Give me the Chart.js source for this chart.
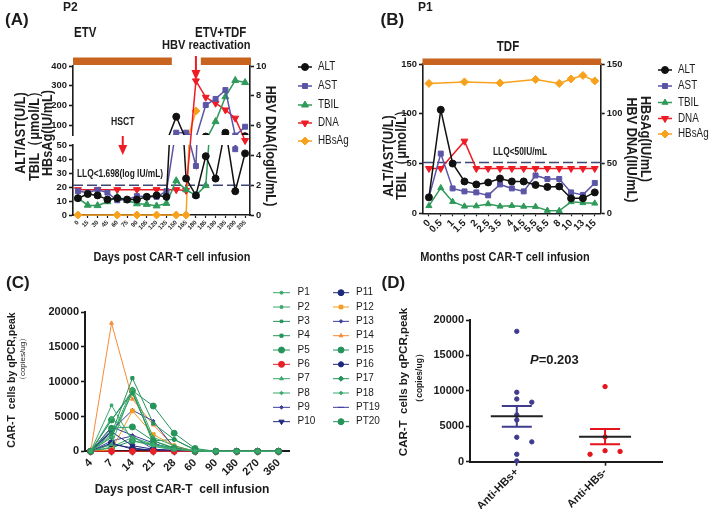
<!DOCTYPE html>
<html>
<head>
<meta charset="utf-8">
<title>CAR-T / HBV figure</title>
<script src="https://cdn.jsdelivr.net/npm/chart.js@4.4.1/dist/chart.umd.min.js"></script>
<style>
  html, body { margin: 0; padding: 0; background: #fff; }
  body { position: relative; width: 709px; height: 509px; overflow: hidden; }
  canvas { position: absolute; }
</style>
</head>
<body>
<canvas id="chartA" width="360" height="270" style="left:0;top:0"></canvas>
<canvas id="chartB" width="349" height="270" style="left:360px;top:0"></canvas>
<canvas id="chartC" width="395" height="239" style="left:0;top:270px"></canvas>
<canvas id="chartD" width="349" height="239" style="left:360px;top:270px"></canvas>
<script>
// ---- panel A: patient P2, days after infusion ----
const daysA  = ['0','15','30','45','60','75','90','105','120','135','150','165','180','185','190','195','200','205'];
const altA   = [12, 15, 14, 11, 12, 11, 11, 13, 14, 13, 143, 26, 14, 42, 26, 62, 17, 44];
const astA   = [17, 16, 18, 16, 10.5, 11, 13.5, 13, 13, 17, 62, 62, 35, 202, 233, 278, 47, 92];
const tbilA  = [12, 7, 6.7, 9.5, 13, 10.5, 8, 7.6, 6.5, 8.3, 24.5, 18, 14, 21, 118, 244, 327, 316];
const dnaA   = [1.7, null, 1.7, null, 1.7, null, 1.7, null, 1.7, null, 1.7, 1.65, 9.0, 7.9, 7.5, 7.05, 6.5, 5.0];
const hbsagA = [0, null, null, null, 0, null, 0, null, 0, null, 0, 0, 172, null, null, null, null, null];
const lowTicksA  = [0, 10, 20, 30, 40, 50];
const highTicksA = [100, 200, 300, 400];
const dnaTicksA  = [0, 2, 4, 6, 8, 10];
const llqA = 2;

// ---- panel B: patient P1, months after infusion ----
const monthsB = ['0','0.5','1','1.5','2','2.5','3.5','4','4.5','5.5','6.5','8','10','13','15'];
const altB    = [16, 104, 50, 32, 29, 31, 35, 32, 32, 28.5, 26.5, 27, 15, 15, 21];
const astB    = [16, 60, 25, 22, 21, 18, 29, 25, 22, 38, 34.5, 34.5, 21, 18.5, 30.5];
const tbilB   = [7.5, 25.5, 11.7, 7, 7.3, 9.4, 7, 7.7, 6.9, 6.7, 2.8, 2.5, 11.5, 10.5, 10];
const dnaB    = [45, 45, null, 72.5, 45, 45, 45, 45, 45, 45, 45, 45, 45, 45, 45];
const hbsagB  = [130.5, null, null, 132, null, null, 131, null, null, 134.5, null, 130.5, 135, 138.5, 133];
const ticksB  = [0, 50, 100, 150];
const llqB = 51;

// ---- panel C: CAR-T copies per patient ----
const daysC  = ['4','7','14','21','28','60','90','180','270','360'];
const namesC = ['P1','P2','P3','P4','P5','P6','P7','P8','P9','P10','P11','P12','P13','P14','P15','P16','P17','P18','PT19','PT20'];
const cP1   = [0, 4800, 2000, 1000, 300, 100, 0, 0, 0, 0];
const cP2   = [0, 6600, 1500, 800, 300, 100, 0, 0, 0, 0];
const cP3   = [0, 4500, 8400, 1500, 500, 0, 0, 0, 0, 0];
const cP4   = [0, 2500, 10500, 4000, 1700, 200, 0, 0, 0, 0];
const cP5   = [0, 3300, 3500, 1500, 400, 0, 0, 0, 0, 0];
const cP6   = [0, 0, 0, 0, 0, 0, 0, 0, 0, 0];
const cP7   = [0, 1000, 8900, 1000, 400, 0, 0, 0, 0, 0];
const cP8   = [0, 2200, 9000, 2000, 800, 0, 0, 0, 0, 0];
const cP9   = [0, 3500, 2300, 1200, 200, 0, 0, 0, 0, 0];
const cP10  = [0, 2800, 800, 300, 100, 0, 0, 0, 0, 0];
const cP11  = [0, 1200, 300, 200, 100, 0, 0, 0, 0, 0];
const cP12  = [0, 200, 5800, 2400, 800, 0, 0, 0, 0, 0];
const cP13  = [0, 3000, 5900, 4350, 500, 0, 0, 0, 0, 0];
const cP14  = [0, 18400, 7500, 3800, 700, 0, 0, 0, 0, 0];
const cP15  = [0, 4500, 8700, 6500, 2600, 400, 0, 0, 0, 0];
const cP16  = [0, 1000, 500, 100, 0, 0, 0, 0, 0, 0];
const cP17  = [0, 2000, 8400, 1500, 1700, 200, 0, 0, 0, 0];
const cP18  = [0, 600, 2000, 700, 200, 0, 0, 0, 0, 0];
const cPT19 = [0, 1500, 2200, 300, 100, 0, 0, 0, 0, 0];
const cPT20 = [0, 500, 1500, 1000, 500, 100, 0, 0, 0, 0];
const ticksCD = [0, 5000, 10000, 15000, 20000];

// ---- panel D: peak by anti-HBs status ----
const groupsD = ['Anti-HBs+', 'Anti-HBs-'];
const peakPos = [18400, 9800, 8850, 8400, 6600, 5900, 3450, 2800, 1050, 100];
const peakNeg = [10600, 3500, 1550, 1450, 1050];
const meanD = [6400, 3530];
const semD  = [1450, 1080];

// ---------------------------------------------------------------
const NARROW = (() => {
  const c = document.createElement('canvas').getContext('2d');
  const probe = 'Wide axis labels 0123456789';
  c.font = 'bold 20px monospace';
  const a = c.measureText(probe).width;
  c.font = 'bold 20px "Liberation Sans Narrow", monospace';
  return Math.abs(c.measureText(probe).width - a) > 0.5;
})();
const NF = NARROW ? '"Liberation Sans Narrow", "Liberation Sans", sans-serif' : '"Liberation Sans", Arial, sans-serif';
const AF = '"Liberation Sans", Arial, sans-serif';
const CX = NARROW ? 1 : 0.82;            // horizontal squeeze when no narrow face exists
const nz = s => NARROW ? s : +(s * 0.82).toFixed(1);
const afont = (s, w = 'bold') => `${w} ${s}px ${AF}`;

const INK = '#1b1b1b';
const BAR = '#c8641f';
const C_ALT = '#111111', C_AST = '#5b55a6', C_TBIL = '#2f9a5a', C_DNA = '#ee1c24', C_HBS = '#f7a11c';
const DASH = '#3c4774';

Chart.defaults.animation = false;
Chart.defaults.responsive = false;
Chart.defaults.devicePixelRatio = 1;
Chart.defaults.plugins.legend.display = false;
Chart.defaults.plugins.tooltip.enabled = false;
Chart.defaults.color = INK;

function txt(ctx, s, x, y, font, opt = {}) {
  ctx.save();
  ctx.translate(x, y);
  ctx.rotate(opt.rot || 0);
  if (opt.sx) ctx.scale(opt.sx, 1);
  ctx.font = font;
  ctx.fillStyle = opt.color || INK;
  ctx.textAlign = opt.align || 'left';
  ctx.textBaseline = 'middle';
  ctx.fillText(s, 0, 0);
  ctx.restore();
}
// condensed text for panels A and B
const ntxt = (ctx, s, x, y, size, w, opt = {}) =>
  txt(ctx, s, x, y, `${w} ${size}px ${NF}`, Object.assign({sx: CX}, opt));

function downArrow(ctx, x, y0, y1) {
  ctx.save();
  ctx.strokeStyle = C_DNA; ctx.fillStyle = C_DNA; ctx.lineWidth = 2;
  ctx.beginPath(); ctx.moveTo(x, y0); ctx.lineTo(x, y1 - 8); ctx.stroke();
  ctx.beginPath(); ctx.moveTo(x - 4.5, y1 - 10); ctx.lineTo(x + 4.5, y1 - 10); ctx.lineTo(x, y1); ctx.closePath(); ctx.fill();
  ctx.restore();
}

function dashed(ctx, x0, x1, y) {
  ctx.save();
  ctx.strokeStyle = DASH; ctx.lineWidth = 1.5; ctx.setLineDash([10, 4]);
  ctx.beginPath(); ctx.moveTo(x0, y); ctx.lineTo(x1, y); ctx.stroke();
  ctx.restore();
}

function legendMark(ctx, ds, x0, x1, y) {
  ctx.save();
  ctx.strokeStyle = ds.borderColor; ctx.lineWidth = ds.borderWidth;
  ctx.beginPath(); ctx.moveTo(x0, y); ctx.lineTo(x1, y); ctx.stroke();
  ctx.fillStyle = ds.borderColor; ctx.lineWidth = 1;
  Chart.helpers.drawPoint(ctx, {pointStyle: ds.pointStyle, radius: ds.pointRadius, rotation: ds.pointRotation || 0, borderWidth: 1}, (x0 + x1) / 2, y);
  ctx.restore();
}

function ser(label, data, color, style, r, rot, axis) {
  return {
    label, data, yAxisID: axis,
    borderColor: color, backgroundColor: color, pointBackgroundColor: color, pointBorderColor: color,
    borderWidth: 1.5, pointStyle: style, pointRadius: r, pointRotation: rot || 0, pointBorderWidth: 1,
    tension: 0, spanGaps: true, clip: false
  };
}

function yAxis(pos, ticksArr, min, max, fontObj, width, more = {}) {
  return Object.assign({
    type: 'linear', position: pos, min, max,
    afterBuildTicks: s => { s.ticks = ticksArr.map(v => ({value: v})); },
    afterFit: s => { s.width = width; },
    border: {color: INK, width: 1.6},
    grid: {drawOnChartArea: false, tickLength: 4, tickWidth: 1.6, tickColor: INK, color: INK},
    ticks: {font: fontObj, color: INK, padding: 2, autoSkip: false, callback: v => String(v)}
  }, more);
}

function xCat(fontObj, height) {
  return {
    type: 'category', offset: true,
    afterFit: s => { s.height = height; },
    border: {color: INK, width: 1.6},
    grid: {drawOnChartArea: false, offset: false, tickLength: 3, tickWidth: 1.2, tickColor: INK, color: INK},
    ticks: {font: fontObj, color: INK, maxRotation: 45, minRotation: 45, autoSkip: false, padding: 1}
  };
}

// clip each half of a broken-axis series to its own axis segment
const segClip = {
  id: 'segClip',
  beforeDatasetDraw(chart, args) {
    const ds = chart.data.datasets[args.index];
    if (!ds.segClip) return;
    const s = chart.scales[ds.segClip], ca = chart.chartArea, c = chart.ctx;
    const top = ds.segClip === 'yHigh' ? ca.top - 10 : s.top;
    const bottom = ds.segClip === 'yLow' ? ca.bottom + 10 : s.bottom;
    c.save();
    c.beginPath();
    c.rect(ca.left - 10, top, ca.right - ca.left + 20, bottom - top);
    c.clip();
  },
  afterDatasetDraw(chart, args) {
    if (chart.data.datasets[args.index].segClip) chart.ctx.restore();
  }
};

const keysAB = ['ALT', 'AST', 'TBIL', 'DNA', 'HBsAg'];

// ================= panel A =================
const twin = (label, data, color, style, r, rot) => ['yHigh', 'yLow'].map(ax => (
  Object.assign(ser(label, data, color, style, r, rot, ax), {segClip: ax})
));

const panelA = {
  id: 'panelA',
  beforeDatasetsDraw(chart) {
    const {ctx, chartArea: ca, scales} = chart;
    dashed(ctx, ca.left, ca.right, scales.yDna.getPixelForValue(llqA));
  },
  afterDraw(chart) {
    const {ctx, chartArea: ca, scales: {x}} = chart;
    ctx.fillStyle = BAR;
    ctx.fillRect(ca.left, 57.5, x.getPixelForValue(9.55) - ca.left, 7.5);
    const x2 = x.getPixelForValue(12.5);
    ctx.fillRect(x2, 57.5, ca.right + 1 - x2, 7.5);

    txt(ctx, '(A)', 5, 20, afont(17));
    txt(ctx, 'P2', 63, 8, afont(12));
    ntxt(ctx, 'ETV', 74, 33, 14, 'bold');
    ntxt(ctx, 'ETV+TDF', 195, 33, 14, 'bold');
    ntxt(ctx, 'HBV reactivation', 162, 45, 13.5, 'bold');
    downArrow(ctx, x.getPixelForValue(12), 56, 80);
    const hx = x.getPixelForValue(4.56);
    ntxt(ctx, 'HSCT', hx, 122, 10.5, 'bold', {align: 'center'});
    downArrow(ctx, hx, 136, 155);
    ntxt(ctx, 'LLQ<1.698(log IU/mL)', 77, 174, 10.2, 'bold');

    const rot = -Math.PI / 2;
    ntxt(ctx, 'ALT/AST(U/L)', 21, 133, 15.5, 'bold', {rot, align: 'center'});
    ntxt(ctx, 'TBIL（μmol/L）', 34.5, 133, 15.5, 'bold', {rot, align: 'center'});
    ntxt(ctx, 'HBsAg(IU/mL)', 48, 133, 15.5, 'bold', {rot, align: 'center'});
    ntxt(ctx, 'HBV DNA(logIU/mL)', 270, 146, 15.5, 'bold', {rot: Math.PI / 2, align: 'center'});
    ntxt(ctx, 'Days post CAR-T cell infusion', 172, 257, 13.4, 'bold', {align: 'center'});

    const rows = [67, 86, 105, 123, 141];
    keysAB.forEach((k, i) => {
      legendMark(ctx, chart.data.datasets.find(d => d.label === k), 298, 312, rows[i]);
      ntxt(ctx, k, 318, rows[i], 12, 'normal');
    });
  }
};

new Chart(document.getElementById('chartA'), {
  type: 'line',
  data: {
    labels: daysA,
    datasets: [
      ...twin('ALT', altA, C_ALT, 'circle', 3.5),
      ...twin('AST', astA, C_AST, 'rect', 3.5),
      ...twin('TBIL', tbilA, C_TBIL, 'triangle', 4),
      ser('DNA', dnaA, C_DNA, 'triangle', 4, 180, 'yDna'),
      ...twin('HBsAg', hbsagA, C_HBS, 'rectRot', 4)
    ]
  },
  options: {
    layout: {padding: {top: 66, left: 0, right: 0, bottom: 0}},
    scales: {
      x: xCat({family: NF, size: nz(7.5), weight: 'bold'}, 55),
      yLow: yAxis('left', lowTicksA, 0, 50, {family: NF, size: nz(11.5), weight: 'bold'}, 73,
        {stack: 'L', stackWeight: 70, weight: 1}),
      yGap: {
        type: 'linear', position: 'left', stack: 'L', stackWeight: 10, weight: 2, min: 0, max: 1,
        border: {display: false}, grid: {display: false}, ticks: {display: false},
        afterFit: s => { s.width = 73; }
      },
      yHigh: yAxis('left', highTicksA, 50, 400, {family: NF, size: nz(11.5), weight: 'bold'}, 73,
        {stack: 'L', stackWeight: 69, weight: 3}),
      yDna: yAxis('right', dnaTicksA, 0, 10, {family: NF, size: nz(11.5), weight: 'bold'}, 110)
    }
  },
  plugins: [segClip, panelA]
});

// ================= panel B =================
const panelB = {
  id: 'panelB',
  beforeDatasetsDraw(chart) {
    const {ctx, chartArea: ca, scales} = chart;
    dashed(ctx, ca.left, ca.right, scales.yR.getPixelForValue(llqB));
  },
  afterDraw(chart) {
    const {ctx, chartArea: ca} = chart;
    ctx.fillStyle = BAR;
    ctx.fillRect(ca.left - 0.5, 58.5, ca.right - ca.left + 1, 6.5);
    txt(ctx, '(B)', 20.5, 20, afont(17));
    txt(ctx, 'P1', 58, 7.5, afont(12));
    ntxt(ctx, 'TDF', 148, 47, 14, 'bold', {align: 'center'});
    ntxt(ctx, 'LLQ<50IU/mL', 133, 152, 10.2, 'bold');

    const rot = -Math.PI / 2;
    ntxt(ctx, 'ALT/AST(U/L)', 28.5, 156, 15.5, 'bold', {rot, align: 'center'});
    ntxt(ctx, 'TBIL（μmol/L）', 42, 152, 15.5, 'bold', {rot, align: 'center'});
    ntxt(ctx, 'HBsAg(IU/mL)', 285, 139, 15.5, 'bold', {rot: Math.PI / 2, align: 'center'});
    ntxt(ctx, 'HBV DNA(IIU/mL)', 271, 150, 15.5, 'bold', {rot: Math.PI / 2, align: 'center'});
    ntxt(ctx, 'Months post CAR-T cell infusion', 145, 257, 13.4, 'bold', {align: 'center'});

    const rows = [70, 86, 102.5, 118.5, 134];
    keysAB.forEach((k, i) => {
      legendMark(ctx, chart.data.datasets.find(d => d.label === k), 298, 312, rows[i]);
      ntxt(ctx, k, 318, rows[i], 12, 'normal');
    });
  }
};

new Chart(document.getElementById('chartB'), {
  type: 'line',
  data: {
    labels: monthsB,
    datasets: [
      ser('ALT', altB, C_ALT, 'circle', 3.5, 0, 'yL'),
      ser('AST', astB, C_AST, 'rect', 3.5, 0, 'yL'),
      ser('TBIL', tbilB, C_TBIL, 'triangle', 3.5, 0, 'yL'),
      ser('DNA', dnaB, C_DNA, 'triangle', 4, 180, 'yR'),
      ser('HBsAg', hbsagB, C_HBS, 'rectRot', 4, 0, 'yR')
    ]
  },
  options: {
    layout: {padding: {top: 64, left: 0, right: 0, bottom: 0}},
    scales: {
      x: xCat({family: NF, size: nz(12), weight: 'bold'}, 56.7),
      yL: yAxis('left', ticksB, 0, 150, {family: NF, size: nz(11.5), weight: 'bold'}, 63),
      yR: yAxis('right', ticksB, 0, 150, {family: NF, size: nz(11.5), weight: 'bold'}, 108.3)
    }
  },
  plugins: [panelB]
});

// ================= panel C =================
const seriesC = [cP1, cP2, cP3, cP4, cP5, cP6, cP7, cP8, cP9, cP10,
                 cP11, cP12, cP13, cP14, cP15, cP16, cP17, cP18, cPT19, cPT20];
const G1 = '#25945a', G2 = '#3aa86c', NV = '#1d2a7c', NV2 = '#3d3f9b';
const styleC = [
  [G2, 'circle', 1.5, 0], [G2, 'rect', 1.8, 0], [G1, 'rect', 1.8, 0], [G1, 'rect', 2.2, 0], [G1, 'circle', 3, 0],
  ['#e8222a', 'circle', 3, 0], [G2, 'triangle', 2.2, 0], [G2, 'rectRot', 1.8, 0], [NV2, 'rectRot', 1.8, 0], [NV, 'triangle', 3, 180],
  [NV, 'circle', 3, 0], ['#f39c1f', 'rect', 2.6, 0], [NV2, 'rectRot', 1.8, 0], ['#f68b35', 'triangle', 2.2, 0], [G1, 'circle', 3, 0],
  [NV, 'circle', 2.6, 0], [G1, 'rectRot', 2.6, 0], [G2, 'rectRot', 1.8, 0], [NV2, 'line', 3, 0], [G1, 'circle', 3, 0]
];

const panelC = {
  id: 'panelC',
  afterDraw(chart) {
    const {ctx} = chart;
    txt(ctx, '(C)', 6, 13, afont(17));
    const rot = -Math.PI / 2;
    txt(ctx, 'CAR-T  cells by qPCR,peak', 12, 110, afont(10.5), {rot, align: 'center'});
    txt(ctx, '（copies/ug）', 23, 89, afont(8, 'normal'), {rot, align: 'center'});
    txt(ctx, 'Days post CAR-T  cell infusion', 182, 219.5, afont(12), {align: 'center'});
    const cols = [{x0: 273, x1: 290, tx: 297.5}, {x0: 333, x1: 349, tx: 356}];
    chart.data.datasets.forEach((ds, i) => {
      const col = cols[Math.floor(i / 10)];
      const y = 22.7 + (i % 10) * 14.33;
      legendMark(ctx, ds, col.x0, col.x1, y);
      txt(ctx, ds.label, col.tx, y, afont(10, 'normal'));
    });
  }
};

new Chart(document.getElementById('chartC'), {
  type: 'line',
  data: {
    labels: daysC.map((_, i) => i),
    datasets: seriesC.map((vals, i) => {
      const [color, style, r, rot] = styleC[i];
      const ds = ser(namesC[i], vals, color, style, r, rot, 'y');
      ds.borderWidth = 1;
      return ds;
    })
  },
  options: {
    layout: {padding: {top: 42, left: 0, right: 106, bottom: 0}},
    scales: {
      x: {
        type: 'linear', min: -0.27, max: 9.5,
        afterBuildTicks: s => { s.ticks = daysC.map((_, i) => ({value: i})); },
        afterFit: s => { s.height = 57.7; },
        border: {color: INK, width: 2},
        grid: {drawOnChartArea: false, tickLength: 4, tickWidth: 1.6, tickColor: INK, color: INK},
        ticks: {font: {family: AF, size: 11, weight: 'bold'}, color: INK, maxRotation: 45, minRotation: 45,
                autoSkip: false, padding: 1, callback: v => daysC[v]}
      },
      y: yAxis('left', ticksCD, 0, 20000, {family: AF, size: 11, weight: 'bold'}, 85,
        {border: {color: INK, width: 2}})
    }
  },
  plugins: [panelC]
});

// ================= panel D =================
// spread overlapping dots sideways, as in a column scatter
function spread(vals, gi) {
  const placed = [];
  const offs = [0, 0.17, -0.17, 0.34, -0.34];
  return vals.map(v => {
    const near = placed.filter(p => Math.abs(p.v - v) < 700);
    let o = offs.find(o => !near.some(p => p.o === o));
    if (o === undefined) o = 0;
    placed.push({v, o});
    return {x: gi + o, y: v};
  });
}

const D_POS = '#3f3b8f', D_NEG = '#e3141c';
const panelD = {
  id: 'panelD',
  afterDatasetsDraw(chart) {
    const {ctx, scales: {x, y}} = chart;
    [D_POS, D_NEG].forEach((col, i) => {
      const cx = x.getPixelForValue(i);
      const m = y.getPixelForValue(meanD[i]);
      const hi = y.getPixelForValue(meanD[i] + semD[i]);
      const lo = y.getPixelForValue(meanD[i] - semD[i]);
      ctx.save();
      ctx.strokeStyle = col; ctx.lineWidth = 2;
      ctx.beginPath();
      ctx.moveTo(cx - 15, hi); ctx.lineTo(cx + 15, hi);
      ctx.moveTo(cx - 15, lo); ctx.lineTo(cx + 15, lo);
      ctx.moveTo(cx, hi); ctx.lineTo(cx, lo);
      ctx.stroke();
      ctx.strokeStyle = '#222'; ctx.beginPath();
      ctx.moveTo(cx - 26, m); ctx.lineTo(cx + 26, m); ctx.stroke();
      ctx.restore();
    });
  },
  afterDraw(chart) {
    const {ctx} = chart;
    txt(ctx, '(D)', 21.5, 13.5, afont(17));
    const rot = -Math.PI / 2;
    txt(ctx, 'CAR-T  cells by qPCR,peak', 43.5, 112, afont(11.5), {rot, align: 'center'});
    txt(ctx, '（copies/ug）', 60, 108, afont(8.5), {rot, align: 'center'});
    ctx.save();
    ctx.font = afont(13, 'italic bold');
    const pw = ctx.measureText('P').width;
    ctx.restore();
    txt(ctx, 'P', 170, 90, afont(13, 'italic bold'));
    txt(ctx, '=0.203', 170 + pw, 90, afont(13));
  }
};

new Chart(document.getElementById('chartD'), {
  type: 'scatter',
  data: {
    datasets: [
      {label: groupsD[0], data: spread(peakPos, 0), backgroundColor: D_POS, borderColor: D_POS, pointRadius: 2.2, clip: false},
      {label: groupsD[1], data: spread(peakNeg, 1), backgroundColor: D_NEG, borderColor: D_NEG, pointRadius: 2.2, clip: false}
    ]
  },
  options: {
    layout: {padding: {top: 50, left: 0, right: 47, bottom: 0}},
    scales: {
      x: {
        type: 'linear', min: -0.53, max: 1.645,
        afterBuildTicks: s => { s.ticks = groupsD.map((_, i) => ({value: i})); },
        afterFit: s => { s.height = 47.3; },
        border: {color: INK, width: 2},
        grid: {drawOnChartArea: false, tickLength: 4, tickWidth: 1.6, tickColor: INK, color: INK},
        ticks: {font: {family: AF, size: 11, weight: 'bold'}, color: INK, maxRotation: 45, minRotation: 45,
                autoSkip: false, padding: 0, callback: v => groupsD[v]}
      },
      y: yAxis('left', ticksCD, 0, 20000, {family: AF, size: 11, weight: 'bold'}, 110,
        {border: {color: INK, width: 2}})
    }
  },
  plugins: [panelD]
});
</script>
</body>
</html>
